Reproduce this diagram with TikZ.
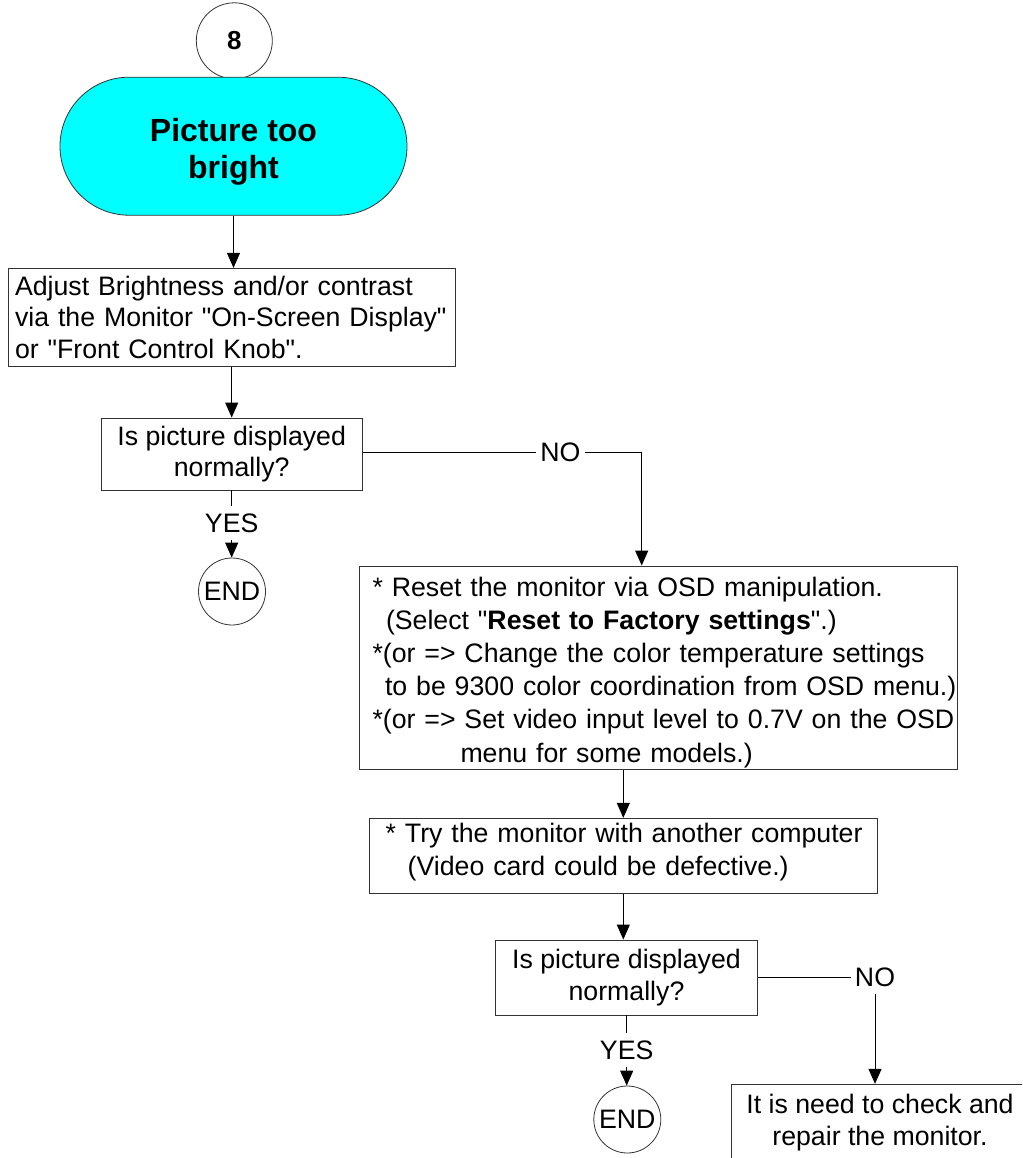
\documentclass[tikz,border=0pt]{standalone}
\usepackage{fontspec}
\setmainfont{Liberation Sans}[Ligatures=TeXOff]
\usetikzlibrary{arrows.meta,shapes.misc}
\definecolor{aqua}{RGB}{0,255,255}

\begin{document}
\begin{tikzpicture}[x=1pt,y=-1pt,
  txt/.style={font=\fontsize{26.7}{31.7}\selectfont},
  box/.style={draw=black!80, line width=0.9pt, rectangle, inner sep=0pt, txt},
  conn/.style={line width=1pt, draw=black},
  arr/.style={conn, -{Triangle[length=15pt,width=13pt]}},
  lbl/.style={txt, inner xsep=4pt, inner ysep=7pt},
  endc/.style={draw=black!80, line width=0.8pt, circle, minimum size=67pt, inner sep=0pt, txt},
]
\useasboundingbox (0,0) rectangle (1022,1158);
\clip (0,0) rectangle (1022,1158);

% page number and start terminal
\node[draw=black!80, line width=0.8pt, circle, minimum size=76pt, inner sep=0pt,
      font=\fontsize{26}{30}\selectfont\bfseries] (num) at (234.3,40.8) {8};
\node[draw=black!80, line width=0.8pt, fill=aqua, rounded rectangle,
      minimum width=347pt, minimum height=138pt, inner sep=0pt, align=center,
      font=\fontsize{32}{36.7}\selectfont\bfseries] (start) at (233.5,146.2)
      {\rule{0pt}{34pt}Picture too\\bright};

% first action
\node[box, minimum width=446.7pt, minimum height=97.7pt, text width=433.3pt,
      inner xsep=6.7pt, align=left] (adjust) at (231.7,317.2)
  {\mbox{Adjust Brightness and/or contrast}\\
   \mbox{via the Monitor "On-Screen Display"}\\
   \mbox{or "Front Control Knob".}};

% first check
\node[box, minimum width=261.3pt, minimum height=72pt, align=center] (check1) at (231.7,454)
  {Is picture displayed\\normally?};
\node[lbl] (yes1) at (231.7,523) {YES};
\node[endc] (end1) at (232,591.5) {END};
\node[lbl] (no1) at (560.4,452.7) {NO};
\coordinate (no1turn) at (641.7,452.7);

% reset actions
\node[box, minimum width=598pt, minimum height=203.5pt, text width=571pt,
      inner xsep=13.5pt, align=left, font=\fontsize{26.7}{33.1}\selectfont] (reset) at (658,667.75)
  {\mbox{\rule{0pt}{28.7pt}* Reset the monitor via OSD manipulation.}\\
   \mbox{\hspace*{13.5pt}(Select "\textbf{Reset to Factory settings}".)}\\
   \mbox{*(or => Change the color temperature settings}\\
   \mbox{\hspace*{12.5pt}to be 9300 color coordination from OSD menu.)}\\
   \mbox{*(or => Set video input level to 0.7V on the OSD}\\
   \mbox{\hspace*{88pt}menu for some models.)}};

\node[box, minimum width=508pt, minimum height=75pt, text width=475.2pt,
      inner xsep=16.4pt, align=left, font=\fontsize{26.7}{33}\selectfont] (other) at (623.3,855.8)
  {\mbox{* Try the monitor with another computer}\\
   \mbox{\hspace*{22pt}(Video card could be defective.)\rule[-12.2pt]{0pt}{12.2pt}}};

% second check
\node[box, minimum width=261.6pt, minimum height=75pt, align=center] (check2) at (626.5,977.5)
  {Is picture displayed\\normally?};
\node[lbl] (yes2) at (626.7,1050) {YES};
\node[endc] (end2) at (627.3,1119.5) {END};
\node[lbl] (no2) at (875,977.3) {NO};

\node[box, minimum width=320pt, minimum height=76pt, align=center] (repair) at (891.7,1122.3)
  {It is need to check and\hspace*{23.4pt}\\repair the monitor.\hspace*{23.4pt}};

% connectors
\draw[arr] (start.south) -- (start.south |- adjust.north);
\draw[arr] (adjust.south) -- (adjust.south |- check1.north);
\draw[conn] (check1.south) -- (check1.south |- yes1.north);
\draw[arr] (yes1.south) -- (yes1.south |- end1.north);
\draw[conn] (check1.east |- no1.west) -- (no1.west);
\draw[arr] (no1.east) -- (no1turn) -- (no1turn |- reset.north);
\draw[arr] (reset.south -| other.north) -- (other.north);
\draw[arr] (other.south) -- (other.south |- check2.north);
\draw[conn] (check2.south -| yes2.north) -- (yes2.north);
\draw[arr] (yes2.south) -- (yes2.south |- end2.north);
\draw[conn] (check2.east |- no2.west) -- (no2.west);
\draw[arr] (no2.south) -- (no2.south |- repair.north);
\end{tikzpicture}
\end{document}
